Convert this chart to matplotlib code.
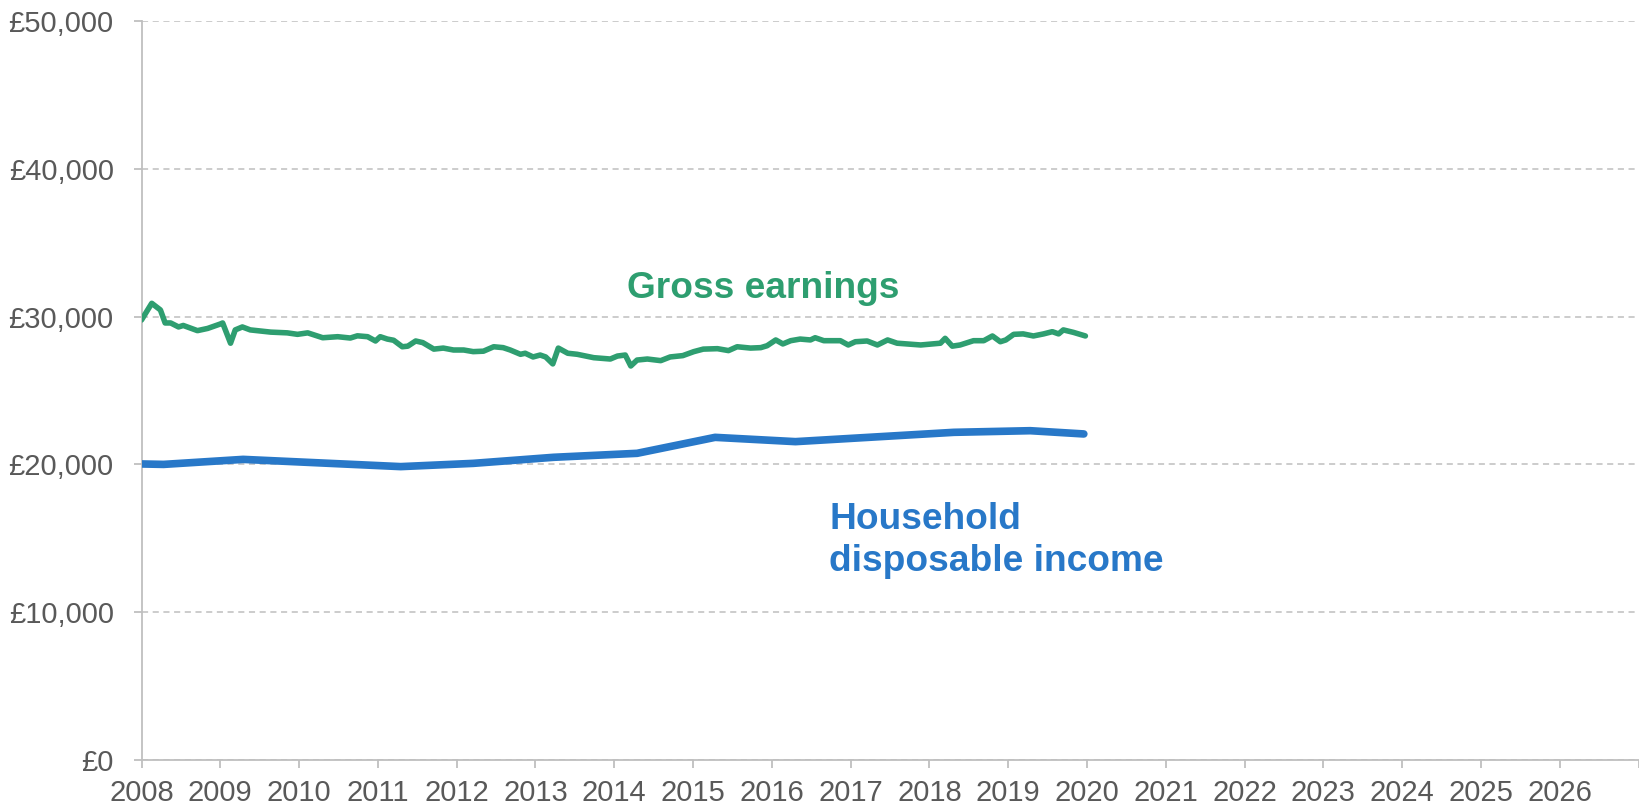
import matplotlib
matplotlib.use("Agg")
import matplotlib.pyplot as plt
from matplotlib.ticker import FuncFormatter, MultipleLocator

plt.rcParams['font.family'] = ['Liberation Sans', 'DejaVu Sans']

# Gross earnings (decimal year, £ thousands)
earn_year = [2008.00, 2008.13, 2008.24, 2008.30, 2008.37, 2008.47, 2008.53, 2008.71,
             2008.84, 2009.00, 2009.03, 2009.13, 2009.19, 2009.28, 2009.38, 2009.64,
             2009.85, 2009.98, 2010.11, 2010.30, 2010.49, 2010.65, 2010.74, 2010.87,
             2010.97, 2011.03, 2011.12, 2011.20, 2011.31, 2011.38, 2011.48, 2011.57,
             2011.71, 2011.83, 2011.96, 2012.09, 2012.21, 2012.34, 2012.47, 2012.59,
             2012.68, 2012.81, 2012.87, 2012.97, 2013.06, 2013.13, 2013.22, 2013.29,
             2013.41, 2013.53, 2013.74, 2013.95, 2014.04, 2014.14, 2014.21, 2014.29,
             2014.42, 2014.59, 2014.71, 2014.87, 2015.01, 2015.13, 2015.31, 2015.45,
             2015.56, 2015.73, 2015.86, 2015.94, 2016.05, 2016.14, 2016.24, 2016.36,
             2016.49, 2016.55, 2016.66, 2016.87, 2016.97, 2017.06, 2017.21, 2017.34,
             2017.47, 2017.59, 2017.89, 2018.14, 2018.20, 2018.29, 2018.39, 2018.56,
             2018.69, 2018.80, 2018.90, 2018.97, 2019.07, 2019.19, 2019.32, 2019.45,
             2019.56, 2019.64, 2019.70, 2019.83, 2019.98]
earn_value = [29.77, 30.90, 30.45, 29.57, 29.57, 29.30, 29.40, 29.05,
              29.20, 29.50, 29.57, 28.20, 29.10, 29.30, 29.10, 28.95,
              28.90, 28.80, 28.90, 28.57, 28.64, 28.55, 28.70, 28.64,
              28.35, 28.64, 28.48, 28.40, 27.96, 28.00, 28.35, 28.24,
              27.80, 27.87, 27.74, 27.74, 27.63, 27.66, 27.96, 27.90,
              27.74, 27.45, 27.52, 27.27, 27.40, 27.27, 26.80, 27.87,
              27.52, 27.45, 27.22, 27.13, 27.33, 27.40, 26.66, 27.06,
              27.13, 27.02, 27.27, 27.36, 27.63, 27.80, 27.83, 27.70,
              27.96, 27.87, 27.90, 28.03, 28.42, 28.15, 28.37, 28.48,
              28.42, 28.57, 28.37, 28.37, 28.08, 28.30, 28.35, 28.08,
              28.42, 28.20, 28.08, 28.20, 28.53, 28.00, 28.08, 28.37,
              28.37, 28.69, 28.30, 28.42, 28.80, 28.83, 28.69, 28.83,
              28.98, 28.83, 29.10, 28.93, 28.69]

# Household disposable income (decimal year, £ thousands)
hdi_year = [2008.00, 2008.28, 2009.29, 2011.29, 2012.21, 2013.23, 2014.29,
            2015.28, 2016.30, 2018.31, 2019.28, 2019.96]
hdi_value = [20.03, 20.00, 20.34, 19.85, 20.07, 20.48, 20.75,
             21.83, 21.54, 22.17, 22.28, 22.06]

year_ticks = list(range(2008, 2028))
year_labels = [str(y) for y in range(2008, 2027)] + [""]

green = "#2e9e70"
blue = "#2878c8"
grey_text = "#595959"
grey_line = "#bfbfbf"

fig = plt.figure(figsize=(16.39, 8.07), dpi=100)
ax = fig.add_axes([141.5 / 1639, 1 - 760 / 807, (1638.5 - 141.5) / 1639, (760 - 21) / 807])

ax.plot(earn_year, [v * 1000 for v in earn_value], color=green, lw=4.0,
        solid_joinstyle="round", solid_capstyle="round", zorder=3)
ax.plot(hdi_year, [v * 1000 for v in hdi_value], color=blue, lw=5.5,
        solid_joinstyle="round", solid_capstyle="round", zorder=3)

ax.set_xlim(2008, 2027)
ax.set_ylim(0, 50000)
ax.set_xticks(year_ticks)
ax.set_xticklabels(year_labels)
ax.yaxis.set_major_locator(MultipleLocator(10000))
ax.yaxis.set_major_formatter(FuncFormatter(lambda v, p: "£{:,.0f}".format(v)))

ax.grid(axis="y", color=grey_line, ls=(0, (4, 3)), lw=1.1, zorder=1)
for s in ["top", "right"]:
    ax.spines[s].set_visible(False)
for s in ["left", "bottom"]:
    ax.spines[s].set_color(grey_line)
    ax.spines[s].set_linewidth(1.3)
ax.tick_params(axis="both", colors=grey_line, length=6, width=1.3,
               labelcolor=grey_text, labelsize=21)
ax.tick_params(axis="x", pad=8)
ax.tick_params(axis="y", pad=14)

ax.text(2015.89, 31900, "Gross earnings", color=green, fontsize=26.7,
        fontweight="bold", ha="center", va="center")
ax.text(2016.73, 14870, "Household\ndisposable income", color=blue, fontsize=26.7,
        fontweight="bold", ha="left", va="center", linespacing=1.27)

fig.savefig("out.png", dpi=100)
